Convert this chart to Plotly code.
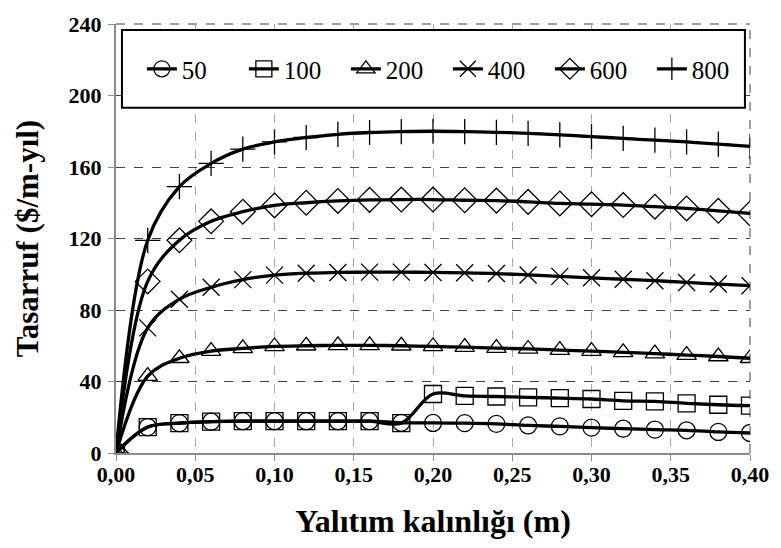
import plotly.graph_objects as go

x_vals = [0.00, 0.02, 0.04, 0.06, 0.08, 0.10, 0.12, 0.14, 0.16, 0.18, 0.20,
          0.22, 0.24, 0.26, 0.28, 0.30, 0.32, 0.34, 0.36, 0.38, 0.40]

s50 = [0, 14.5, 16.7, 17.5, 17.8, 17.8, 17.8, 17.8, 17.8, 16.9, 16.8,
       16.7, 16.3, 15.4, 14.9, 14.2, 13.6, 13.1, 12.7, 11.8, 11.2]
s100 = [0, 14.5, 16.7, 17.5, 17.8, 17.8, 17.8, 17.8, 17.8, 16.7, 33.0,
        32.0, 31.6, 31.1, 30.7, 30.2, 29.2, 28.9, 27.8, 27.0, 26.5]
s200 = [0, 43, 53, 57, 58.5, 59.6, 60, 60.2, 60.2, 60, 59.6,
        59.2, 58.7, 58.2, 57.6, 57, 56.3, 55.6, 54.8, 54, 53]
s400 = [0, 70, 86, 92.7, 97, 99.5, 100.6, 101, 101.2, 101.2, 101,
        100.8, 100.4, 99.6, 98.8, 98.0, 97.2, 96.4, 95.4, 94.5, 93.6]
s600 = [0, 96, 119, 129.6, 135, 138.5, 140, 141, 141.6, 141.8, 141.8,
        141.4, 141.2, 140.5, 139.6, 139.2, 138.7, 137.8, 136.8, 135.5, 134]
s800 = [0, 119, 149, 162, 170, 174, 176.5, 178.3, 179.3, 179.8, 180,
        179.8, 179.4, 178.8, 178, 177, 176, 175, 174, 172.8, 171.5]

series_names = ["50", "100", "200", "400", "600", "800"]
series_values = [s50, s100, s200, s400, s600, s800]
symbols = ["circle-open", "square-open", "triangle-up-open", "x-thin-open",
           "diamond-open", "cross-thin-open"]
sizes = [17, 17, 17, 17, 19, 18]

x_ticks = [0.00, 0.05, 0.10, 0.15, 0.20, 0.25, 0.30, 0.35, 0.40]
x_tick_labels = ["0,00", "0,05", "0,10", "0,15", "0,20", "0,25", "0,30", "0,35", "0,40"]
y_ticks = [0, 40, 80, 120, 160, 200, 240]

fig = go.Figure()
for name, vals, sym, sz in zip(series_names, series_values, symbols, sizes):
    fig.add_trace(go.Scatter(
        x=x_vals, y=vals, name=name, mode="lines+markers",
        line=dict(color="black", width=3.3, shape="spline", smoothing=1.0),
        marker=dict(symbol=sym, size=sz, color="black",
                    line=dict(color="black", width=1.3)),
    ))

serif = "Liberation Serif"

fig.update_layout(
    width=781, height=548,
    margin=dict(l=116, r=28, t=18, b=95),
    paper_bgcolor="white", plot_bgcolor="white",
    font=dict(family=serif, color="black"),
    showlegend=True,
    legend=dict(
        orientation="h",
        x=0.0408, xanchor="left", y=0.895, yanchor="middle",
        bgcolor="rgba(0,0,0,0)", borderwidth=0,
        font=dict(family=serif, size=25, color="black"),
        entrywidth=57, entrywidthmode="pixels",
        itemsizing="trace", tracegroupgap=0,
    ),
    xaxis=dict(
        range=[0, 0.40], tickvals=x_ticks, ticktext=x_tick_labels,
        showgrid=True, gridcolor="#a6a6a6", griddash="dash", gridwidth=1,
        showline=True, linecolor="#8c8c8c", linewidth=2,
        ticks="outside", ticklen=6, tickcolor="#8c8c8c", tickwidth=1,
        zeroline=False, ticklabelstandoff=-5,
        tickfont=dict(family=serif, size=22, color="black", weight="bold"),
        title=dict(text="Yalıtım kalınlığı (m)", standoff=23,
                   font=dict(family=serif, size=32, color="black", weight="bold")),
    ),
    yaxis=dict(
        range=[0, 240], tickvals=y_ticks,
        showgrid=True, gridcolor="#404040", griddash="dash", gridwidth=1,
        showline=True, linecolor="#8c8c8c", linewidth=2,
        ticks="outside", ticklen=6, tickcolor="#8c8c8c", tickwidth=1,
        zeroline=False, ticklabelstandoff=2,
        tickfont=dict(family=serif, size=22, color="black", weight="bold"),
        title=dict(text="Tasarruf ($/m-yıl)", standoff=21,
                   font=dict(family=serif, size=31, color="black", weight="bold")),
    ),
    shapes=[
        dict(type="rect", xref="paper", yref="paper",
             x0=0.0094, x1=0.992, y0=0.8046, y1=0.986,
             fillcolor="white", line=dict(color="black", width=2), layer="above"),
        dict(type="line", xref="paper", yref="paper", x0=1, x1=1, y0=0, y1=1,
             line=dict(color="#404040", width=1, dash="dash"), layer="below"),
        dict(type="line", xref="paper", yref="paper", x0=0, x1=1, y0=1, y1=1,
             line=dict(color="#404040", width=1, dash="dash"), layer="below"),
    ],
)

fig.write_html("out.html")
